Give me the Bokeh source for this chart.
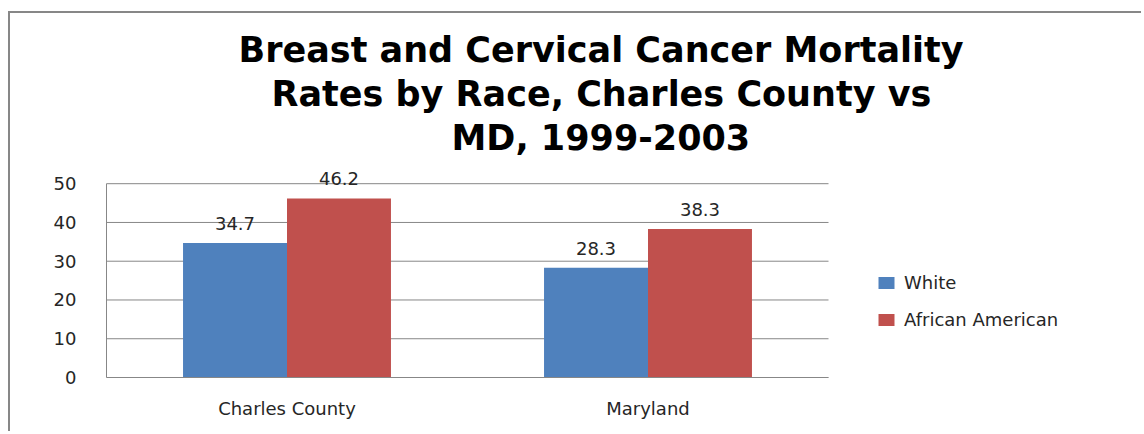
from bokeh.plotting import figure
from bokeh.models import (ColumnDataSource, Range1d, FixedTicker,
                          Legend, LegendItem, LabelSet, Title)
from bokeh.transform import dodge
from bokeh.core.properties import value
from bokeh.embed import file_html
from bokeh.resources import INLINE

categories = ["Charles County", "Maryland"]
white = [34.7, 28.3]
african_american = [46.2, 38.3]
series_names = ["White", "African American"]
y_ticks = [0, 10, 20, 30, 40, 50]
title_lines = ["Breast and Cervical Cancer Mortality",
               "Rates by Race, Charles County vs",
               "MD, 1999-2003"]

FONT = "DejaVu Sans"
BLUE = "#4F81BD"
RED = "#C0504D"
GRID = "#878787"
TXT = "#262626"

n = len(categories)
centers = [i + 0.5 for i in range(n)]
source = ColumnDataSource(dict(
    xc=centers,
    white=white,
    aa=african_american,
    white_lbl=[f"{v:.1f}" for v in white],
    aa_lbl=[f"{v:.1f}" for v in african_american],
))
grid_src = ColumnDataSource(dict(x0=[0] * len(y_ticks), x1=[n] * len(y_ticks),
                                 y=y_ticks))

W, H = 1133, 420
FRAME_L, FRAME_R = 96, 0
# the frame also holds the legend area to the right of the plotted categories
x_end = n * (W - FRAME_L - FRAME_R) / 722.0

p = figure(x_range=Range1d(0, x_end), y_range=Range1d(0, 56.5),
           width=W, height=H, output_backend="svg", toolbar_location=None,
           min_border_left=FRAME_L, min_border_right=FRAME_R, min_border_top=145,
           min_border_bottom=56)
p.styles = {"border-left": "2px solid #878787", "border-top": "2px solid #878787",
            "margin-top": "11px", "margin-left": "8px"}

# horizontal gridlines spanning only the category area
p.segment(x0="x0", x1="x1", y0="y", y1="y", source=grid_src,
          line_color=GRID, line_width=1)

bw = 0.288
r1 = p.vbar(x=dodge("xc", -bw / 2), top="white", width=bw,
            source=source, fill_color=BLUE, line_color=None)
r2 = p.vbar(x=dodge("xc", bw / 2), top="aa", width=bw,
            source=source, fill_color=RED, line_color=None)

for col, ycol, off in (("white_lbl", "white", -bw / 2), ("aa_lbl", "aa", bw / 2)):
    ls = LabelSet(x=dodge("xc", off), y=ycol, text=col,
                  source=source, text_align="center", text_baseline="alphabetic",
                  y_offset=13, text_font=value(FONT), text_font_size=value("18px"),
                  text_color=TXT)
    p.add_layout(ls)

legend = Legend(items=[LegendItem(label=series_names[0], renderers=[r1]),
                       LegendItem(label=series_names[1], renderers=[r2])],
                location=(770, 47), orientation="vertical",
                padding=0, margin=0, spacing=16, glyph_width=20, glyph_height=15,
                label_standoff=8, label_text_font=FONT, label_text_font_size="18px",
                label_text_color=TXT, border_line_color=None,
                background_fill_alpha=0)
p.add_layout(legend)

# title: three centred lines; p.title is the outermost, added titles stack
# outward from the frame in the order they are added
p.title.text = title_lines[0]
extra = [Title(text=title_lines[2]), Title(text=title_lines[1])]
offsets = {title_lines[0]: 132, title_lines[1]: 165, title_lines[2]: 345}
for t in [p.title] + extra:
    t.align = "left"
    t.offset = offsets[t.text]
    t.text_font = FONT
    t.text_font_size = "35px"
    t.text_font_style = "bold"
    t.text_color = "black"
    t.standoff = 2
for t in extra:
    p.add_layout(t, "above")

p.outline_line_color = None
p.xgrid.grid_line_color = None
p.ygrid.grid_line_color = None

p.yaxis.ticker = FixedTicker(ticks=y_ticks)
p.yaxis.bounds = (0, 50)
p.xaxis.ticker = FixedTicker(ticks=centers)
p.xaxis.major_label_overrides = {c: name for c, name in zip(centers, categories)}
p.xaxis.bounds = (0, n)

for ax in (p.xaxis[0], p.yaxis[0]):
    ax.axis_line_color = GRID
    ax.major_tick_out = 0
    ax.major_tick_in = 0
    ax.minor_tick_out = 0
    ax.minor_tick_in = 0
    ax.major_label_text_font = FONT
    ax.major_label_text_font_size = "18px"
    ax.major_label_text_color = TXT
p.yaxis.major_label_standoff = 30
p.xaxis.major_label_standoff = 20

open("out.html", "w").write(file_html(p, INLINE))
